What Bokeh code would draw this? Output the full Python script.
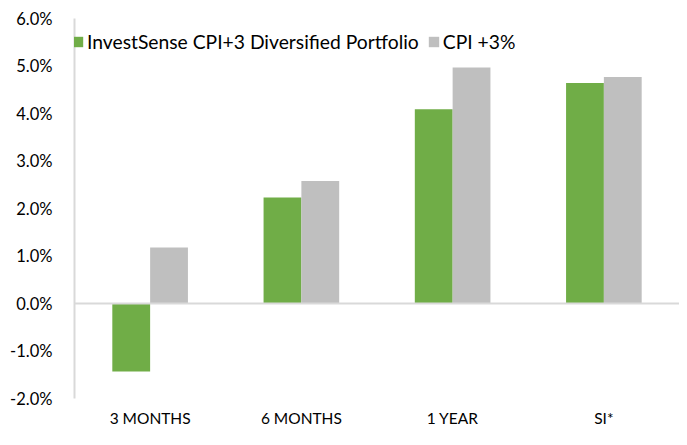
from bokeh.plotting import figure
from bokeh.models import ColumnDataSource, FactorRange, Range1d, Span, Legend, LegendItem, FixedTicker, CustomJSTickFormatter
from bokeh.transform import dodge
from bokeh.embed import file_html
from bokeh.resources import INLINE

categories = ["3 MONTHS", "6 MONTHS", "1 YEAR", "SI*"]
portfolio = [-1.43, 2.23, 4.09, 4.64]
cpi_plus3 = [1.18, 2.58, 4.97, 4.77]
y_ticks = [-2, -1, 0, 1, 2, 3, 4, 5, 6]

src = ColumnDataSource(dict(cat=categories, port=portfolio, cpi=cpi_plus3))

FONT = "Lato"
p = figure(width=679, height=429, output_backend="svg", toolbar_location=None,
           x_range=FactorRange(*categories, range_padding=0), y_range=Range1d(-2, 6),
           min_border_left=74, min_border_right=0, min_border_top=18, min_border_bottom=24)
p.outline_line_color = None
p.border_fill_color = "white"
p.xgrid.grid_line_color = None
p.ygrid.grid_line_color = None
p.background_fill_color = "white"

r1 = p.vbar(x=dodge("cat", -0.125, range=p.x_range), top="port", width=0.25, source=src,
            fill_color="#70AD47", line_color=None)
r2 = p.vbar(x=dodge("cat", 0.125, range=p.x_range), top="cpi", width=0.25, source=src,
            fill_color="#BFBFBF", line_color=None)

p.add_layout(Span(location=0, dimension="width", line_color="#D9D9D9", line_width=2))

ya = p.yaxis[0]
ya.ticker = FixedTicker(ticks=y_ticks)
ya.formatter = CustomJSTickFormatter(code="return tick.toFixed(1) + '%';")
ya.axis_line_color = "#D9D9D9"
ya.axis_line_width = 2
ya.major_tick_line_color = None
ya.minor_tick_line_color = None
ya.major_label_text_font = FONT
ya.major_label_text_font_size = "16.5px"
ya.major_label_text_color = "#000000"
ya.major_label_standoff = 16

xa = p.xaxis[0]
xa.axis_line_color = None
xa.major_tick_line_color = None
xa.minor_tick_line_color = None
xa.major_label_text_font = FONT
xa.major_label_text_font_size = "15.5px"
xa.major_label_text_color = "#000000"
xa.major_label_standoff = 4

legend = Legend(items=[LegendItem(label="InvestSense CPI+3 Diversified Portfolio", renderers=[r1]),
                       LegendItem(label="CPI +3%", renderers=[r2])],
                orientation="horizontal", location=(-3, 345))
legend.border_line_color = None
legend.background_fill_alpha = 0
legend.margin = 0
legend.padding = 0
legend.glyph_width = 13
legend.glyph_height = 13
legend.label_standoff = 3
legend.spacing = 8
legend.label_text_font = FONT
legend.label_text_font_size = "19.3px"
legend.label_text_color = "#000000"
p.add_layout(legend, "center")

open("out.html", "w").write(file_html(p, INLINE))
